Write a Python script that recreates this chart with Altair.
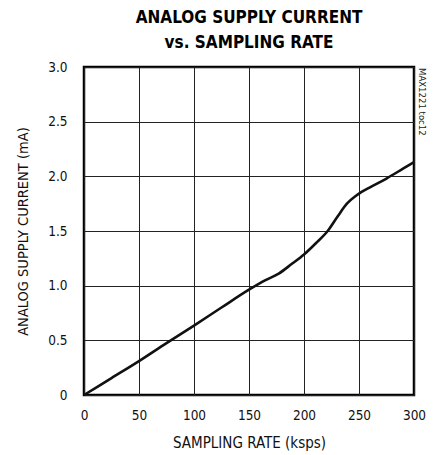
import altair as alt
import pandas as pd

rate = [0, 25, 50, 75, 100, 125, 150, 165, 177, 189, 200, 211, 221.5, 231, 239, 247, 252, 260, 275, 290, 300]
current = [0, 0.155, 0.31, 0.475, 0.635, 0.80, 0.963, 1.05, 1.11, 1.20, 1.285, 1.39, 1.50, 1.64, 1.75, 1.82, 1.855, 1.90, 1.98, 2.07, 2.13]

x_ticks = [0, 50, 100, 150, 200, 250, 300]
y_ticks = [0, 0.5, 1.0, 1.5, 2.0, 2.5, 3.0]

FONT = "Liberation Sans Narrow, DejaVu Sans Condensed, sans-serif"

df = pd.DataFrame({"rate": rate, "current": current})
note = pd.DataFrame({"t": ["MAX1221 toc12"]})

line = alt.Chart(df).mark_line(color="#111", strokeWidth=2.6, interpolate="monotone").encode(
    x=alt.X("rate:Q", scale=alt.Scale(domain=[0, 300], nice=False),
            axis=alt.Axis(values=x_ticks, title="SAMPLING RATE (ksps)", labelPadding=13,
                          titlePadding=14, titleFontSize=15, labelFlush=False)),
    y=alt.Y("current:Q", scale=alt.Scale(domain=[0, 3], nice=False),
            axis=alt.Axis(values=y_ticks, title="ANALOG SUPPLY CURRENT (mA)", labelPadding=17,
                          titlePadding=17, titleFontSize=14.5, labelFlush=False,
                          labelExpr="datum.value == 0 ? '0' : format(datum.value, '.1f')")),
)

label = alt.Chart(note).mark_text(angle=90, align="left", baseline="middle", fontSize=9.5,
                                  font=FONT, color="#222").encode(
    x=alt.value(338), y=alt.value(1), text="t:N")

chart = alt.layer(line, label).properties(
    width=330, height=328,
    title=alt.Title(["ANALOG SUPPLY CURRENT", "vs. SAMPLING RATE"], fontSize=17, font=FONT,
                    fontWeight="bold", anchor="middle", offset=8, lineHeight=25, color="#000"),
    autosize=alt.AutoSizeParams(type="none"),
    padding={"left": 76, "top": 59, "right": 20, "bottom": 60},
).configure_view(stroke="#000", strokeWidth=2.5).configure_axis(
    grid=True, gridColor="#222", gridWidth=1, gridOpacity=1, domain=False, ticks=False, tickSize=0,
    labelFont=FONT, labelFontSize=13.5, labelColor="#111", titleFont=FONT,
    titleFontWeight="normal", titleColor="#111",
)

chart.save("out.html", embed_options={"renderer": "svg", "actions": False})
